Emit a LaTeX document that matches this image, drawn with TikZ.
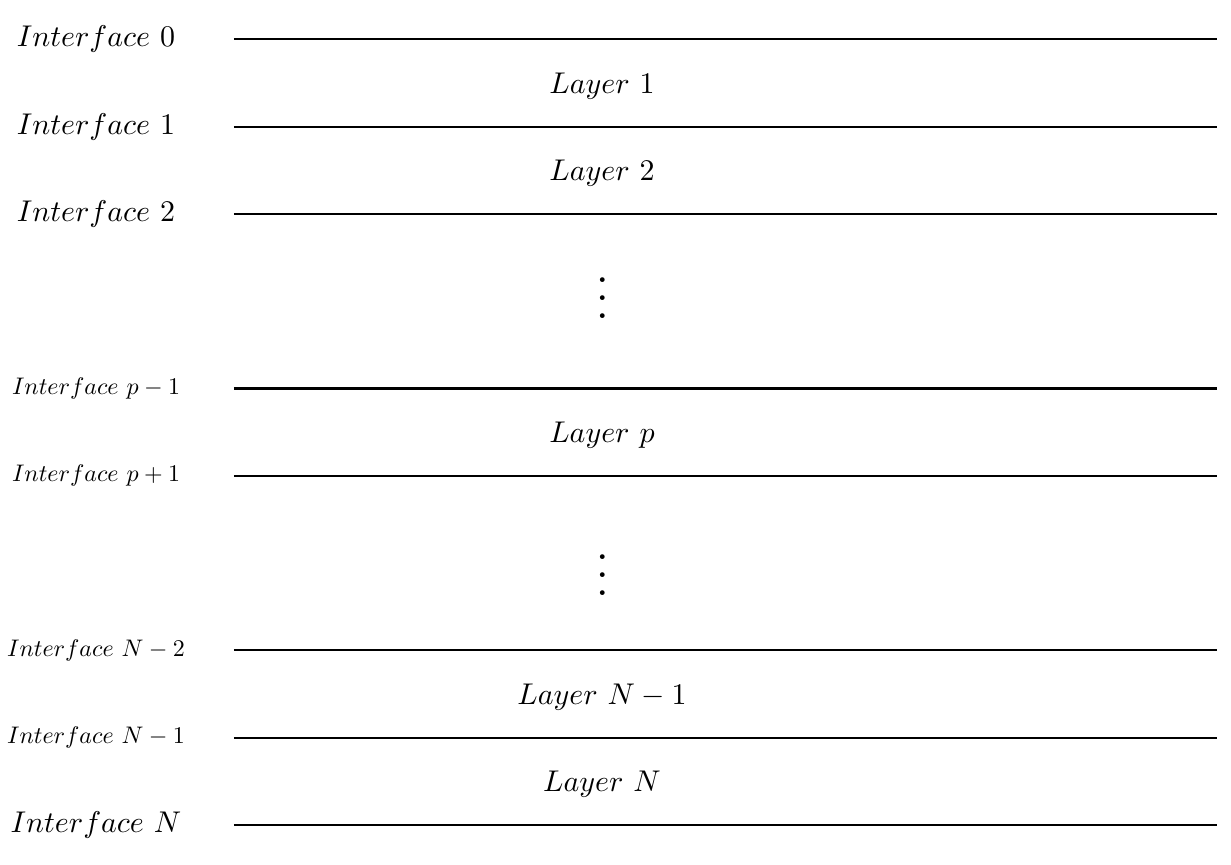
\documentclass[tikz,border=0pt]{standalone}
\usepackage{amsmath}
\usepackage{graphicx}
\usetikzlibrary{positioning}

\begin{document}
\begin{tikzpicture}[x=1.0236cm, y=1.0236cm,
    ifacetxt/.style={inner sep=0pt},
    smallifacetxt/.style={inner sep=0pt, scale=0.8},
    layertxt/.style={inner sep=0pt},
    boundary/.style={line width=0.7pt}]
    \useasboundingbox (0, 0.45) rectangle (14.101, -9.447);

    % interface labels
    \node[ifacetxt] (i0) at (1.1, 0) {$Interface\ 0$};
    \node[ifacetxt] (i1) at (1.1, -1) {$Interface\ 1$};
    \node[ifacetxt] (i2) at (1.1, -2) {$Interface\ 2$};
    \node[smallifacetxt] (ipm) at (1.1, -4) {$Interface\ p-1$};
    \node[smallifacetxt] (ipp) at (1.1, -5) {$Interface\ p+1$};
    \node[smallifacetxt] (inn) at (1.1, -7) {$Interface\ N-2$};
    \node[smallifacetxt] (inm) at (1.1, -8) {$Interface\ N-1$};
    \node[ifacetxt] (in) at (1.1, -9) {$Interface\ N$};

    % layer labels
    \node[layertxt] (lay1) at (6.896, -0.535) {$Layer\ 1$};
    \node[layertxt] (lay2) at (6.896, -1.535) {$Layer\ 2$};
    \node[layertxt] (layp) at (6.896, -4.535) {$Layer\ p$};
    \node[layertxt] (laynm) at (6.896, -7.535) {$Layer\ N-1$};
    \node[layertxt] (layn) at (6.896, -8.535) {$Layer\ N$};
    \node[inner sep=0pt, anchor=base] (dots1) at (6.899, -3.197) {\scalebox{1.5}{$\vdots$}};
    \node[inner sep=0pt, anchor=base] (dots2) at (6.899, -6.370) {\scalebox{1.5}{$\vdots$}};

    % interface lines
    \coordinate (a0) at (2.68, 0);  \coordinate (b0) at (13.944, 0);
    \coordinate (a1) at (2.68, -1); \coordinate (b1) at (13.944, -1);
    \coordinate (a2) at (2.68, -2); \coordinate (b2) at (13.944, -2);
    \coordinate (a3) at (2.68, -4); \coordinate (b3) at (13.944, -4);
    \coordinate (a4) at (2.68, -5); \coordinate (b4) at (13.944, -5);
    \coordinate (a5) at (2.68, -7); \coordinate (b5) at (13.944, -7);
    \coordinate (a6) at (2.68, -8); \coordinate (b6) at (13.944, -8);
    \coordinate (a7) at (2.68, -9); \coordinate (b7) at (13.944, -9);

    \draw[boundary] (a0) -- (b0);
    \draw[boundary] (a1) -- (b1);
    \draw[boundary] (a2) -- (b2);
    \draw[boundary] (a3) -- (b3);
    \draw[boundary] (a4) -- (b4);
    \draw[boundary] (a5) -- (b5);
    \draw[boundary] (a6) -- (b6);
    \draw[boundary] (a7) -- (b7);
\end{tikzpicture}
\end{document}
